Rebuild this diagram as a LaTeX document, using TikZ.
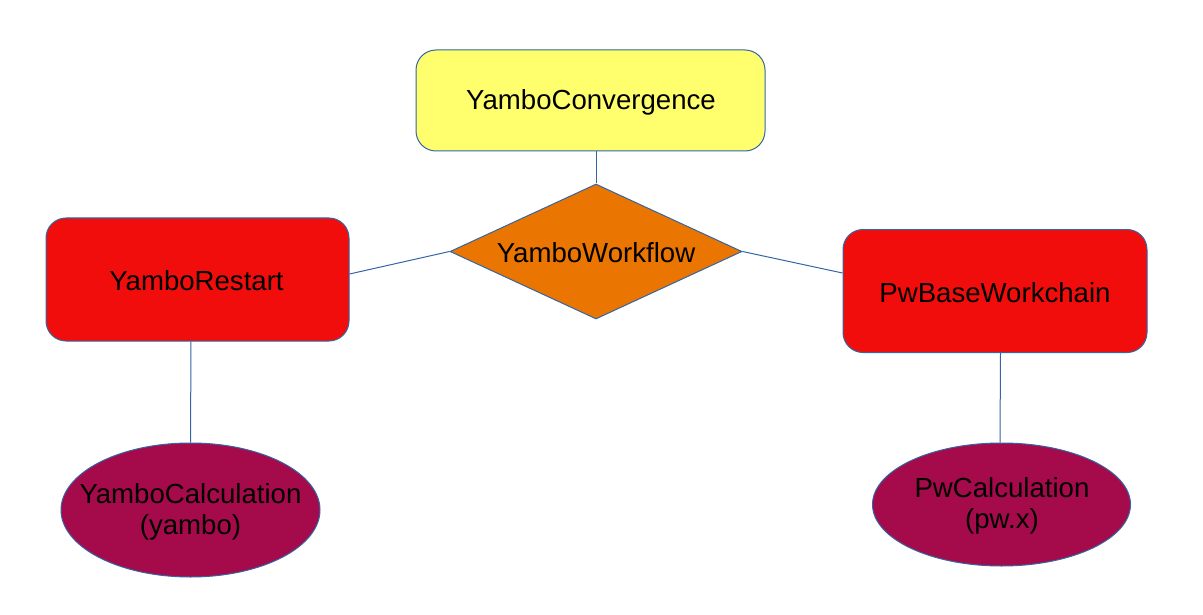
\documentclass[tikz,border=0pt]{standalone}
\usepackage{fontspec}
\setmainfont{Liberation Sans}
\usetikzlibrary{shapes.geometric}
\definecolor{edgeblue}{HTML}{3465A4}
\definecolor{boxyellow}{HTML}{FFFF6D}
\definecolor{boxred}{HTML}{F10D0C}
\definecolor{boxorange}{HTML}{EA7500}
\definecolor{boxmaroon}{HTML}{A50A4A}
\begin{document}
\begin{tikzpicture}[x=1pt,y=-1pt,
  lbl/.style={font=\fontsize{27.6}{31.7}\selectfont, align=center, text=black, inner sep=0pt},
  rbox/.style={draw=edgeblue, line width=1pt, rounded corners=20pt, inner sep=0pt},
  ell/.style={draw=edgeblue, line width=1pt, ellipse, inner sep=0pt, fill=boxmaroon},
  conn/.style={draw=edgeblue, line width=1pt}]
\useasboundingbox (0,0) rectangle (1203,615);
\node[rbox, fill=boxyellow, minimum width=349pt, minimum height=101pt] (conv) at (590.5,100.5) {};
\node[lbl] (convt) at (591,102) {YamboConvergence};
\node[diamond, draw=edgeblue, line width=1pt, fill=boxorange, minimum width=292pt, minimum height=135pt, inner sep=0pt] (wf) at (596,251.5) {};
\node[lbl] (wft) at (596,253) {YamboWorkflow};
\node[rbox, fill=boxred, minimum width=303pt, minimum height=123pt] (yr) at (197.5,279.5) {};
\node[lbl] (yrt) at (196.5,281) {YamboRestart};
\node[rbox, fill=boxred, minimum width=304pt, minimum height=123pt] (pw) at (995,291) {};
\node[lbl] (pwt) at (995,293) {PwBaseWorkchain};
\node[ell, minimum width=259pt, minimum height=134pt] (yc) at (190.5,510) {};
\node[lbl] (yct) at (190.5,512) {YamboCalculation\\(yambo)};
\node[ell, minimum width=258pt, minimum height=123pt] (pc) at (1001.5,504.5) {};
\node[lbl] (pct) at (1002,506) {PwCalculation\\(pw.x)};
\draw[conn] (conv.south -| wf.north) -- (wf.north);
\draw[conn] (wf.west) -- ([yshift=5.5pt]yr.east);
\draw[conn] (wf.east) -- ([yshift=18pt]pw.west);
\draw[conn] ([xshift=-6.5pt]yr.south) -- (yc.north);
\draw[conn] ([xshift=5.5pt]pw.south) -- ([xshift=-1.5pt]pc.north);
\end{tikzpicture}
\end{document}
